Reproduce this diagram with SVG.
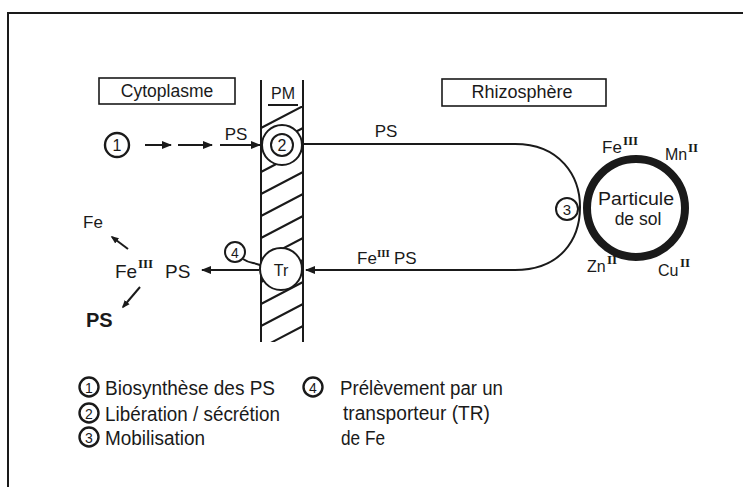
<svg xmlns="http://www.w3.org/2000/svg" width="743" height="487" viewBox="0 0 743 487">
<defs>
<style>
.t{font-family:"Liberation Sans",Arial,sans-serif;fill:#1a1a1a}
.r{font-family:"Liberation Serif","Times New Roman",serif;font-weight:bold;fill:#1a1a1a}
.ln{stroke:#1a1a1a;stroke-width:2;fill:none}
.c{stroke:#1a1a1a;stroke-width:2;fill:#fff}
.lc{stroke:#1a1a1a;stroke-width:2.4;fill:#fff}
</style>
<marker id="ah" viewBox="0 0 10 10" refX="9" refY="5" markerWidth="5" markerHeight="5" orient="auto">
<path d="M0,1 L10,5 L0,9 Z" fill="#1a1a1a"/>
</marker>
<marker id="dot" viewBox="0 0 10 10" refX="8" refY="5" markerWidth="4" markerHeight="4" orient="auto">
<path d="M0,1 L10,5 L0,9 Z" fill="#1a1a1a"/>
</marker>
<clipPath id="mem"><rect x="261" y="106" width="42" height="236"/></clipPath>
</defs>
<rect width="743" height="487" fill="#fff"/>
<path d="M8,487 V13 H743" class="ln" stroke-width="2.5"/>

<g id="membrane">
<line x1="261" y1="80" x2="261" y2="342" class="ln" stroke-width="2.5"/>
<line x1="303" y1="80" x2="303" y2="342" class="ln" stroke-width="2.5"/>
<text x="283" y="99" class="t" font-size="16" text-anchor="middle">PM</text>
<line x1="268" y1="105" x2="298" y2="105" class="ln" stroke-width="1.5"/>
<g clip-path="url(#mem)" class="ln" stroke-width="2">
<path d="M261,128 L303,106 M261,150 L303,128 M261,172 L303,150 M261,194 L303,172 M261,216 L303,194 M261,238 L303,216 M261,260 L303,238 M261,282 L303,260 M261,304 L303,282 M261,326 L303,304 M261,348 L303,326"/>
</g>
</g>

<g id="cytoplasme">
<rect x="99" y="78" width="136" height="26" fill="none" stroke="#1a1a1a" stroke-width="1.6"/>
<text x="167" y="97" class="t" font-size="17.5" text-anchor="middle">Cytoplasme</text>
</g>
<g id="rhizosphere">
<rect x="442" y="79" width="164" height="27" fill="none" stroke="#1a1a1a" stroke-width="1.6"/>
<text x="522" y="98" class="t" font-size="18" text-anchor="middle">Rhizosphère</text>
</g>

<g id="connectors">
<line x1="145" y1="145" x2="171" y2="145" class="ln" marker-end="url(#ah)"/>
<line x1="178" y1="145" x2="212" y2="145" class="ln" marker-end="url(#ah)"/>
<line x1="220" y1="145" x2="260" y2="145" class="ln" marker-end="url(#ah)"/>
<path d="M303,144 H515 C560,144 580,176 580,207 C580,240 560,270 515,270 H306" class="ln" marker-end="url(#ah)"/>
<line x1="259" y1="270" x2="202" y2="270" class="ln" marker-end="url(#ah)"/>
<path d="M243,259 C250,264 254,262 262,266" class="ln" stroke-width="1.5"/>
<line x1="128" y1="249" x2="112" y2="237" class="ln" marker-end="url(#dot)"/>
<line x1="140" y1="287" x2="123" y2="307" class="ln" marker-end="url(#dot)"/>
</g>

<g id="step1">
<circle cx="117" cy="145" r="12" class="lc"/>
<text x="117" y="151" class="t" font-size="16" text-anchor="middle">1</text>
<text x="236" y="140" class="t" font-size="17" text-anchor="middle">PS</text>
</g>
<g id="step2">
<circle cx="282" cy="145" r="20" class="c" stroke-width="2.5"/>
<circle cx="282" cy="145" r="11" class="c"/>
<text x="282" y="151" class="t" font-size="16" text-anchor="middle">2</text>
<text x="386" y="137" class="t" font-size="17" text-anchor="middle">PS</text>
</g>
<g id="transporter">
<circle cx="281" cy="269" r="21" class="c" stroke-width="2.5"/>
<text x="281" y="276" class="t" font-size="16" text-anchor="middle">Tr</text>
<circle cx="235" cy="252" r="10" class="c"/>
<text x="235" y="258" class="t" font-size="14" text-anchor="middle">4</text>
</g>
<g id="complex-in">
<text x="357" y="264" class="t" font-size="17">Fe</text>
<text x="377" y="257" class="r" font-size="11">III</text>
<text x="394" y="264" class="t" font-size="17">PS</text>
</g>
<g id="cyto-products">
<text x="115" y="278" class="t" font-size="19">Fe</text>
<text x="138" y="268" class="r" font-size="13">III</text>
<text x="165" y="278" class="t" font-size="19">PS</text>
<text x="83" y="228" class="t" font-size="17">Fe</text>
<text x="86" y="327" class="t" font-size="20" font-weight="bold">PS</text>
</g>
<g id="soil">
<ellipse cx="636" cy="208" rx="49" ry="49" fill="#fff" stroke="#1a1a1a" stroke-width="8"/>
<text x="636" y="205" class="t" font-size="17.5" text-anchor="middle" textLength="76" lengthAdjust="spacingAndGlyphs">Particule</text>
<text x="638" y="225" class="t" font-size="17.5" text-anchor="middle">de sol</text>
<circle cx="567" cy="209" r="11" class="c"/>
<text x="567" y="215" class="t" font-size="15" text-anchor="middle">3</text>
<text x="602" y="153" class="t" font-size="17">Fe</text>
<text x="623" y="145" class="r" font-size="13">III</text>
<text x="665" y="160" class="t" font-size="16">Mn</text>
<text x="688" y="152" class="r" font-size="13">II</text>
<text x="587" y="272" class="t" font-size="16">Zn</text>
<text x="607" y="264" class="r" font-size="13">II</text>
<text x="658" y="276" class="t" font-size="16">Cu</text>
<text x="680" y="267" class="r" font-size="13">II</text>
</g>

<g id="legend">
<circle cx="89" cy="387" r="9.5" class="lc"/>
<text x="89" y="392.5" class="t" font-size="14" text-anchor="middle">1</text>
<text x="105" y="395" class="t" font-size="20" textLength="170" lengthAdjust="spacingAndGlyphs">Biosynthèse des PS</text>
<circle cx="89" cy="413" r="9.5" class="lc"/>
<text x="89" y="418.5" class="t" font-size="14" text-anchor="middle">2</text>
<text x="105" y="421" class="t" font-size="20" textLength="175" lengthAdjust="spacingAndGlyphs">Libération / sécrétion</text>
<circle cx="89" cy="437" r="9.5" class="lc"/>
<text x="89" y="442.5" class="t" font-size="14" text-anchor="middle">3</text>
<text x="105" y="445" class="t" font-size="20" textLength="100" lengthAdjust="spacingAndGlyphs">Mobilisation</text>
<circle cx="313" cy="387" r="9.5" class="lc"/>
<text x="313" y="392.5" class="t" font-size="14" text-anchor="middle">4</text>
<text x="340" y="395" class="t" font-size="20" textLength="163" lengthAdjust="spacingAndGlyphs">Prélèvement par un</text>
<text x="343" y="420" class="t" font-size="20" textLength="147" lengthAdjust="spacingAndGlyphs">transporteur  (TR)</text>
<text x="341" y="445" class="t" font-size="20" textLength="44" lengthAdjust="spacingAndGlyphs">de Fe</text>
</g>
</svg>
